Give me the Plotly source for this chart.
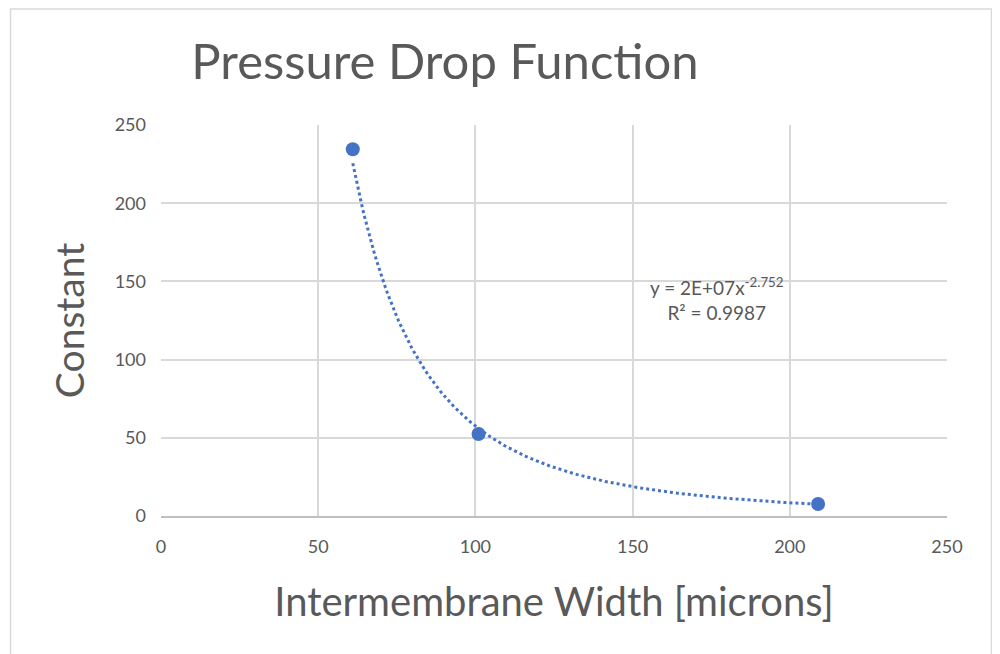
import numpy as np
import plotly.graph_objects as go

width_um = [61, 101, 209]
constant = [234.5, 52.4, 7.7]
x_ticks = [0, 50, 100, 150, 200, 250]
y_ticks = [0, 50, 100, 150, 200, 250]
eq_text = "y = 2E+07x<sup>-2.752</sup><br>R² = 0.9987"

# Power trendline fitted from data (log-log regression, like Excel)
b, ln_a = np.polyfit(np.log(width_um), np.log(constant), 1)
xs = np.linspace(min(width_um), max(width_um), 200)
ys = np.exp(ln_a) * xs ** b

FONT = "Lato"
GREY = "#595959"
BLUE = "#4472c4"

fig = go.Figure()
fig.add_trace(go.Scatter(x=xs, y=ys, mode="lines",
                         line=dict(color=BLUE, width=3, dash="dot"),
                         hoverinfo="skip", showlegend=False))
fig.add_trace(go.Scatter(x=width_um, y=constant, mode="markers",
                         marker=dict(color=BLUE, size=14), showlegend=False))

fig.update_layout(
    width=1000, height=654,
    paper_bgcolor="white", plot_bgcolor="white",
    margin=dict(l=153, r=61, t=117, b=146),
    font=dict(family=FONT, color=GREY),
    title=dict(text="Pressure Drop Function", xref="container", yref="container",
               x=0.437, xanchor="center", y=1 - 54 / 654, yanchor="middle",
               font=dict(size=49, color=GREY, family=FONT)),
    xaxis=dict(range=[0, 250], tickvals=x_ticks, showgrid=True, gridcolor="#d9d9d9",
               gridwidth=1.5, zeroline=False, showline=True, linecolor="#bfbfbf",
               linewidth=1.5, tickfont=dict(size=18, color=GREY), ticks="",
               ticklabelstandoff=14,
               title=dict(text="Intermembrane Width [microns]",
                          font=dict(size=40, color=GREY), standoff=32)),
    yaxis=dict(range=[0, 250], tickvals=y_ticks, showgrid=True, gridcolor="#d9d9d9",
               gridwidth=1.5, zeroline=False, showline=False,
               tickfont=dict(size=18, color=GREY), ticks="", ticklabelstandoff=14,
               title=dict(text="Constant", font=dict(size=39, color=GREY), standoff=18)),
    annotations=[dict(text=eq_text, x=177, y=139, xref="x", yref="y",
                      showarrow=False, align="center", xanchor="center", yanchor="middle",
                      font=dict(size=19, color=GREY, family=FONT))],
    shapes=[dict(type="rect", xref="paper", yref="paper",
                 x0=-152 / 794, x1=1 + 45 / 794, y0=-150 / 391, y1=1 + 116 / 391,
                 line=dict(color="#d9d9d9", width=1.5))],
)

fig.write_html("out.html")
